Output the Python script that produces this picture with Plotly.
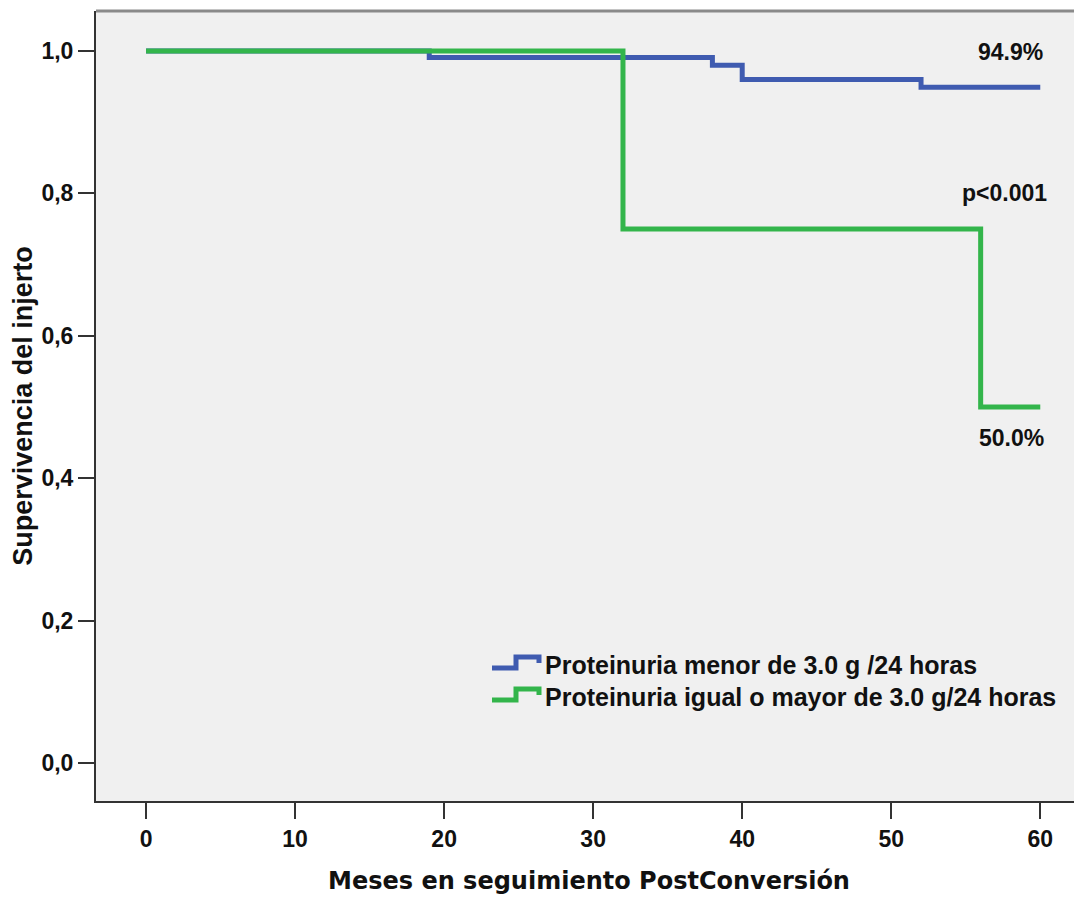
import plotly.graph_objects as go

# Kaplan-Meier step data (months, survival)
blue_months = [0, 19, 38, 40, 52, 60]
blue_surv = [1.0, 0.991, 0.980, 0.960, 0.949, 0.949]
green_months = [0, 32, 56, 60]
green_surv = [1.0, 0.75, 0.50, 0.50]

series_names = ["Proteinuria menor de 3.0 g /24 horas",
                "Proteinuria igual o mayor de 3.0 g/24 horas"]
x_ticks = [0, 10, 20, 30, 40, 50, 60]
y_ticks = [0.0, 0.2, 0.4, 0.6, 0.8, 1.0]
y_ticktext = ["0,0", "0,2", "0,4", "0,6", "0,8", "1,0"]

ann_texts = ["94.9%", "p<0.001", "50.0%"]
ann_x = [58.0, 57.6, 58.1]
ann_y = [0.999, 0.80, 0.457]

BLUE = "#3F5BB0"
GREEN = "#33B54B"
SANS = "Liberation Sans, Arial, sans-serif"
BOLDSANS = "DejaVu Sans, Verdana, sans-serif"

# page body has an 8px margin; compensate so plot sits where the reference has it
OFF = 8
W, H = 1082 - OFF, 899 - OFF
PL, PT, PR, PB = 96, 11, 1082, 801   # plot area in window pixels
L, T = PL - OFF, PT - OFF
R = 0
B = (OFF + H) - PB

fig = go.Figure()
fig.add_trace(go.Scatter(x=blue_months, y=blue_surv, mode="lines",
                         line=dict(color=BLUE, width=5, shape="hv"),
                         name=series_names[0], showlegend=False))
fig.add_trace(go.Scatter(x=green_months, y=green_surv, mode="lines",
                         line=dict(color=GREEN, width=5, shape="hv"),
                         name=series_names[1], showlegend=False))

for t, xx, yy in zip(ann_texts, ann_x, ann_y):
    fig.add_annotation(x=xx, y=yy, text="<b>%s</b>" % t, showarrow=False,
                       font=dict(family=SANS, size=23, color="#111"),
                       xanchor="center", yanchor="middle")

pw = PR - PL
ph = PB - PT
def px(xp):
    return (xp - PL) / pw
def py(yp):
    return (PB - yp) / ph

legend_rows = [(665, BLUE), (697, GREEN)]
for (cy, col), name in zip(legend_rows, series_names):
    path = "M %f,%f L %f,%f L %f,%f L %f,%f L %f,%f" % (
        px(492), py(cy + 3), px(516), py(cy + 3), px(516), py(cy - 8),
        px(539), py(cy - 8), px(539), py(cy - 2))
    fig.add_shape(type="path", path=path, xref="paper", yref="paper",
                  line=dict(color=col, width=5))
    fig.add_annotation(x=px(543), y=py(cy), xref="paper", yref="paper",
                       text="<b>%s</b>" % name, showarrow=False,
                       xanchor="left", yanchor="middle",
                       font=dict(family=SANS, size=25, color="#111"))

fig.add_shape(type="line", xref="paper", yref="paper", x0=0, x1=1, y0=1, y1=1,
              line=dict(color="#8a8a8a", width=3))

fig.update_layout(
    width=W, height=H,
    margin=dict(l=L, r=R, t=T, b=B, pad=0),
    paper_bgcolor="white", plot_bgcolor="#F0F0F0",
    showlegend=False,
)
fig.update_xaxes(range=[-3.36, 62.8], tickvals=x_ticks, ticks="outside",
                 ticklen=16, tickwidth=2, tickcolor="#333",
                 showgrid=False, zeroline=False, showline=True,
                 linecolor="#333", linewidth=2,
                 tickfont=dict(family=SANS, size=23, color="#111", weight="bold"),
                 title=dict(text="<b>Meses en seguimiento PostConversión</b>",
                            font=dict(family=BOLDSANS, size=24, color="#111"),
                            standoff=22))
fig.update_yaxes(range=[-0.0534, 1.0562], tickvals=y_ticks, ticktext=y_ticktext,
                 ticks="outside", ticklen=16, tickwidth=2, tickcolor="#333",
                 showgrid=False, zeroline=False, showline=True,
                 linecolor="#333", linewidth=2,
                 tickfont=dict(family=SANS, size=23, color="#111", weight="bold"),
                 title=dict(text="<b>Supervivencia del injerto</b>",
                            font=dict(family=SANS, size=27, color="#111"),
                            standoff=8))

fig.write_html("out.html")
